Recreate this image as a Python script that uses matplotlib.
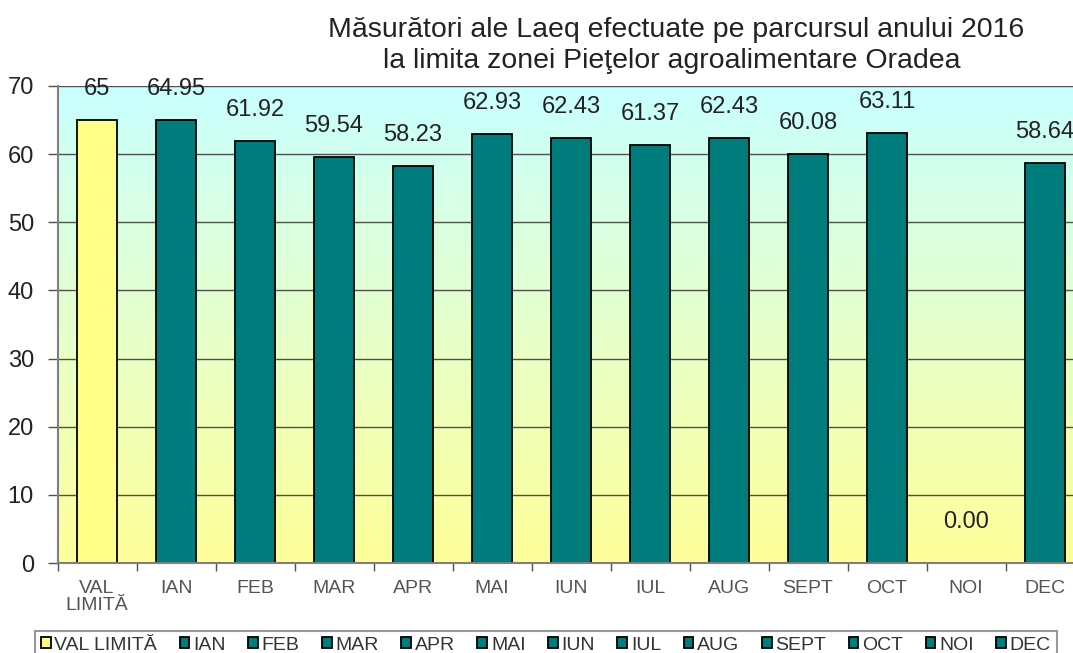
import matplotlib
matplotlib.use("Agg")
import matplotlib.pyplot as plt
import numpy as np
from matplotlib.colors import LinearSegmentedColormap

plt.rcParams['font.family'] = ['Liberation Sans', 'DejaVu Sans']

categories = ["VAL\nLIMITĂ", "IAN", "FEB", "MAR", "APR", "MAI", "IUN", "IUL",
              "AUG", "SEPT", "OCT", "NOI", "DEC"]
legend_labels = ["VAL LIMITĂ", "IAN", "FEB", "MAR", "APR", "MAI", "IUN", "IUL",
                 "AUG", "SEPT", "OCT", "NOI", "DEC"]
values = [65, 64.95, 61.92, 59.54, 58.23, 62.93, 62.43, 61.37, 62.43, 60.08, 63.11, 0.0, 58.64]
value_labels = ["65", "64.95", "61.92", "59.54", "58.23", "62.93", "62.43", "61.37",
                "62.43", "60.08", "63.11", "0.00", "58.64"]
yticks = [0, 10, 20, 30, 40, 50, 60, 70]

W, H = 1073, 653
fig = plt.figure(figsize=(W / 100, H / 100), dpi=100)
fig.patch.set_facecolor("white")

left = 57.5 / W
bottom = 1 - 563 / H
width = 1027 / W
height = (563 - 86) / H
ax = fig.add_axes([left, bottom, width, height])

# gradient background
cmap = LinearSegmentedColormap.from_list("bg", ["#ffff99", "#e6ffcc", "#c8ffff"])
grad = np.linspace(0, 1, 256).reshape(-1, 1)
ax.imshow(grad, extent=[-0.5, 12.5, 0, 70], origin="lower", aspect="auto",
          cmap=cmap, zorder=0)

for y in yticks[1:]:
    ax.axhline(y, color="#505050", lw=1.0, zorder=1)

x = np.arange(len(categories))
handles = []
for i, (v, lab) in enumerate(zip(values, legend_labels)):
    color = "#ffff88" if i == 0 else "#007c7c"
    b = ax.bar(x[i], v, width=0.5, color=color, edgecolor="black", linewidth=1.3,
               zorder=2, label=lab)
    handles.append(b)
    ax.annotate(value_labels[i], (x[i], v), xytext=(0, 31 if v > 0 else 41),
                textcoords="offset pixels", ha="center", va="center",
                fontsize=17, color="#222222", zorder=3)

ax.set_xlim(-0.5, 12.5)
ax.set_ylim(0, 70)
ax.set_yticks(yticks)
ax.set_yticklabels([str(t) for t in yticks], fontsize=17, color="#222222")
ax.tick_params(axis="y", direction="out", length=7, width=1, color="#505050", pad=10)

ax.set_xticks(x)
ax.set_xticklabels(categories, fontsize=14, color="#555555", linespacing=1.0)
ax.tick_params(axis="x", length=0, pad=12)
ax.set_xticks(np.arange(-0.5, 12.6, 1), minor=True)
ax.tick_params(axis="x", which="minor", direction="out", length=6, width=1, color="#505050")

for s in ["top", "right"]:
    ax.spines[s].set_visible(False)
ax.spines["left"].set_color("#808080")
ax.spines["bottom"].set_color("#808080")
ax.spines["left"].set_linewidth(1.5)
ax.spines["bottom"].set_linewidth(1.5)

fig.text(676 / W, 1 - 30 / H, "Măsurători ale Laeq efectuate pe parcursul anului 2016",
         ha="center", va="center", fontsize=20.5, color="#222222")
fig.text(672 / W, 1 - 61 / H, "la limita zonei Pieţelor agroalimentare Oradea",
         ha="center", va="center", fontsize=20.5, color="#222222")

leg = fig.legend(handles=handles, labels=legend_labels, loc="upper left",
                 bbox_to_anchor=(35 / W, 1 - 631 / H), ncol=13, fontsize=14,
                 frameon=True, fancybox=False, edgecolor="#808080",
                 handlelength=0.5, handleheight=0.5, handletextpad=0.2,
                 columnspacing=1.15, borderpad=0.3, borderaxespad=0)
leg.get_frame().set_linewidth(1.5)
for t in leg.get_texts():
    t.set_color("#333333")

fig.savefig("out.png", dpi=100)
